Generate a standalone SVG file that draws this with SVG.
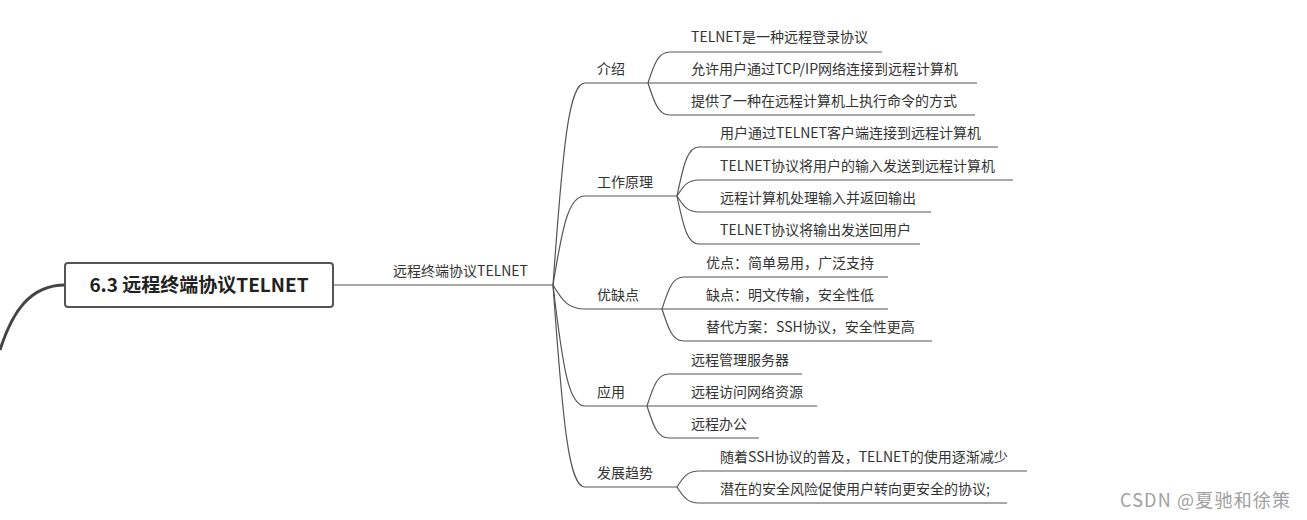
<svg xmlns="http://www.w3.org/2000/svg" width="1307" height="520" viewBox="0 0 1307 520">
<style>
text{font-family:"Microsoft YaHei","Noto Sans CJK SC","Noto Sans",sans-serif;fill:#333;font-size:14px}
.c{fill:none;stroke:#555;stroke-width:1.2}
.root{font-size:19px;font-weight:bold;fill:#222}
.wm{font-size:18px;fill:#a0a0a0}
</style>
<rect width="1307" height="520" fill="#fff"/>
<g id="connectors">
<path d="M65 285 C 30 285 12 312 0 350" fill="none" stroke="#444" stroke-width="3"/>
<path class="c" d="M333 285 L553 285"/>
<path class="c" d="M553 285 C563 144 569 83 585 83 L648 83"/>
<path class="c" d="M553 285 C563 223 569 196 585 196 L677 196"/>
<path class="c" d="M553 285 C563 302 569 309 585 309 L662 309"/>
<path class="c" d="M553 285 C563 370 569 406 585 406 L647 406"/>
<path class="c" d="M553 285 C563 426 569 487 585 487 L677 487"/>
<path class="c" d="M648 83 C655 61 659 52 670 52 L882 52"/>
<path class="c" d="M648 83 L977 83"/>
<path class="c" d="M648 83 C655 105 659 115 670 115 L975 115"/>
<path class="c" d="M677 196 C684 162 688 147 699 147 L998 147"/>
<path class="c" d="M677 196 C684 185 688 180 699 180 L1013 180"/>
<path class="c" d="M677 196 C684 207 688 212 699 212 L931 212"/>
<path class="c" d="M677 196 C684 230 688 244 699 244 L920 244"/>
<path class="c" d="M662 309 C669 287 673 277 684 277 L888 277"/>
<path class="c" d="M662 309 L888 309"/>
<path class="c" d="M662 309 C669 331 673 341 684 341 L932 341"/>
<path class="c" d="M647 406 C654 384 658 374 669 374 L802 374"/>
<path class="c" d="M647 406 L817 406"/>
<path class="c" d="M647 406 C654 428 658 438 669 438 L759 438"/>
<path class="c" d="M677 487 C684 476 688 471 699 471 L1027 471"/>
<path class="c" d="M677 487 C684 498 688 503 699 503 L1007 503"/>
</g>
<g id="root">
<rect x="65" y="263" width="268" height="44" rx="3" fill="#fff" stroke="#555" stroke-width="2"/>
<text class="root" x="199" y="292" text-anchor="middle">6.3 远程终端协议TELNET</text>
</g>
<g id="main"><text x="393" y="276">远程终端协议TELNET</text></g>
<g id="n-intro"><text x="597" y="74">介绍</text></g>
<g id="n-work"><text x="597" y="187">工作原理</text></g>
<g id="n-pros"><text x="597" y="300">优缺点</text></g>
<g id="n-app"><text x="597" y="397">应用</text></g>
<g id="n-trend"><text x="597" y="478">发展趋势</text></g>
<g id="n-intro-1"><text x="691" y="42">TELNET是一种远程登录协议</text></g>
<g id="n-intro-2"><text x="691" y="74">允许用户通过TCP/IP网络连接到远程计算机</text></g>
<g id="n-intro-3"><text x="691" y="106">提供了一种在远程计算机上执行命令的方式</text></g>
<g id="n-work-1"><text x="720" y="138">用户通过TELNET客户端连接到远程计算机</text></g>
<g id="n-work-2"><text x="720" y="171">TELNET协议将用户的输入发送到远程计算机</text></g>
<g id="n-work-3"><text x="720" y="203">远程计算机处理输入并返回输出</text></g>
<g id="n-work-4"><text x="720" y="235">TELNET协议将输出发送回用户</text></g>
<g id="n-pros-1"><text x="706" y="268">优点：简单易用，广泛支持</text></g>
<g id="n-pros-2"><text x="706" y="300">缺点：明文传输，安全性低</text></g>
<g id="n-pros-3"><text x="706" y="332">替代方案：SSH协议，安全性更高</text></g>
<g id="n-app-1"><text x="691" y="365">远程管理服务器</text></g>
<g id="n-app-2"><text x="691" y="397">远程访问网络资源</text></g>
<g id="n-app-3"><text x="691" y="429">远程办公</text></g>
<g id="n-trend-1"><text x="720" y="462">随着SSH协议的普及，TELNET的使用逐渐减少</text></g>
<g id="n-trend-2"><text x="720" y="494">潜在的安全风险促使用户转向更安全的协议;</text></g>
<text class="wm" x="1120" y="507" textLength="170">CSDN @夏驰和徐策</text>
</svg>
